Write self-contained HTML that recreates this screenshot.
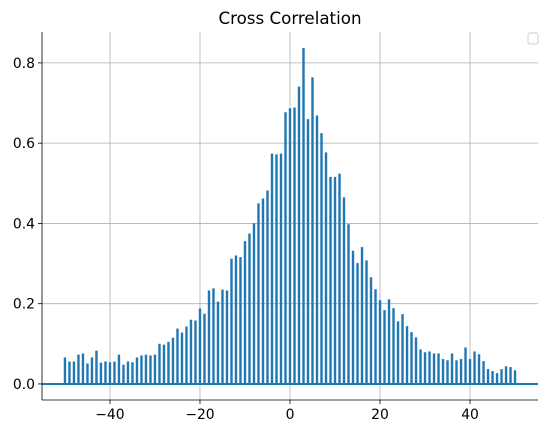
<!DOCTYPE html>
<html><head><meta charset="utf-8"><style>
body{margin:0;background:#fff;}
svg text{font-family:"DejaVu Sans","Liberation Sans",sans-serif;fill:#000;}
</style></head><body>
<svg id="chart" width="547" height="435" xmlns="http://www.w3.org/2000/svg">
<text x="290" y="24" font-size="16.7" text-anchor="middle">Cross Correlation</text>
<g id="grid"></g>
<g id="bars"></g>
<g id="axes"></g>
<rect x="528" y="33" width="10" height="11" rx="2" fill="#fff" stroke="#ccc"/>
</svg>
<script>
const lags = [];
for (let i = -50; i <= 50; i++) lags.push(i);
const corrValues = [0.066,0.056,0.056,0.073,0.076,0.051,0.066,0.083,0.053,0.056,0.054,0.056,0.073,0.048,0.056,0.054,0.066,0.071,0.073,0.071,0.073,0.10,0.098,0.105,0.115,0.138,0.128,0.143,0.16,0.158,0.188,0.175,0.233,0.238,0.205,0.235,0.233,
0.312,0.32,0.316,0.356,0.375,0.40,0.45,0.462,0.482,0.574,0.572,0.574,0.677,0.687,0.689,0.741,0.837,0.66,0.764,0.669,0.625,0.577,0.516,0.516,0.524,0.465,0.398,0.332,0.301,0.341,
0.308,0.266,0.236,0.209,0.184,0.211,0.189,0.156,0.174,0.144,0.129,0.116,0.086,0.079,0.081,0.076,0.076,0.062,0.059,0.076,0.059,0.062,0.091,0.062,0.081,0.074,0.057,0.037,0.032,0.027,0.037,0.044,0.042,0.034];
const xTicks = [-40,-20,0,20,40];
const yTicks = [0.0,0.2,0.4,0.6,0.8];
const L=42,R=538,T=32,B=400;
const xMin=-55.1,xMax=55.1,yMin=-0.04,yMax=0.877;
const xs=v=>L+(v-xMin)/(xMax-xMin)*(R-L);
const ys=v=>B-(v-yMin)/(yMax-yMin)*(B-T);
const NS="http://www.w3.org/2000/svg";
function mk(tag,attrs,parent){const e=document.createElementNS(NS,tag);for(const k in attrs)e.setAttribute(k,attrs[k]);document.getElementById(parent).appendChild(e);return e;}
xTicks.forEach(t=>{
  const g=mk('line',{x1:xs(t),x2:xs(t),y1:T,y2:B,stroke:'#b0b0b0','stroke-width':0.8},'grid');
  
  
  const tk=mk('line',{x1:xs(t),x2:xs(t),y1:B,y2:B+4,stroke:'#000','stroke-width':0.8},'axes');
  
  
  const tx=mk('text',{x:xs(t),y:B+19,'font-size':13.9,'text-anchor':'middle'},'axes');
  tx.textContent=(t<0?'\u2212'+(-t):t);
  
  
});
yTicks.forEach(t=>{
  const g=mk('line',{x1:L,x2:R,y1:ys(t),y2:ys(t),stroke:'#b0b0b0','stroke-width':0.8},'grid');
  
  
  const tk=mk('line',{x1:L-4,x2:L,y1:ys(t),y2:ys(t),stroke:'#000','stroke-width':0.8},'axes');
  
  
  const tx=mk('text',{x:L-7,y:ys(t)+5,'font-size':13.9,'text-anchor':'end'},'axes');
  tx.textContent=t.toFixed(1);
  
  
});
lags.forEach((l,i)=>{
  const b=mk('line',{x1:xs(l),x2:xs(l),y1:ys(0),y2:ys(corrValues[i]),stroke:'#1f77b4','stroke-width':2.4},'bars');
  
  
});
const z=mk('line',{x1:L,x2:R,y1:ys(0),y2:ys(0),stroke:'#1f77b4','stroke-width':2},'bars');


const sl=mk('line',{x1:L,x2:L,y1:T,y2:B,stroke:'#000','stroke-width':0.8},'axes');


const sb=mk('line',{x1:L,x2:R,y1:B,y2:B,stroke:'#000','stroke-width':0.8},'axes');


</script>
</body></html>
